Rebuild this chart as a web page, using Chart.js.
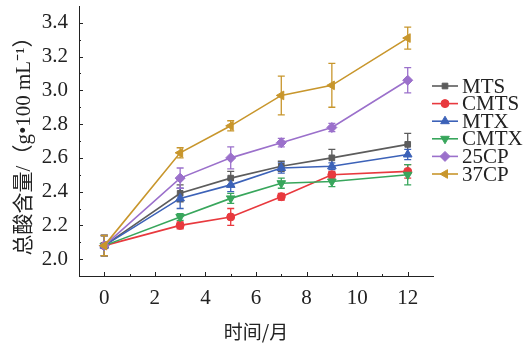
<!DOCTYPE html>
<html>
<head>
<meta charset="utf-8">
<script src="https://cdn.jsdelivr.net/npm/chart.js@4"></script>
<style>
    html, body { margin: 0; padding: 0; background: #fff; }
    #wrap { width: 527px; height: 348px; }
</style>
</head>
<body>
<div id="wrap"><canvas id="acidChart"></canvas></div>
<script>
// storage time (months)
const months = [0, 3, 5, 7, 9, 12];

const seriesNames = ['MTS', 'CMTS', 'MTX', 'CMTX', '25CP', '37CP'];

const mtsValues  = [2.08, 2.39, 2.48, 2.55, 2.60, 2.68];
const cmtsValues = [2.08, 2.20, 2.25, 2.37, 2.50, 2.52];
const mtxValues  = [2.08, 2.36, 2.44, 2.54, 2.55, 2.62];
const cmtxValues = [2.08, 2.25, 2.36, 2.45, 2.46, 2.50];
const cp25Values = [2.08, 2.48, 2.60, 2.69, 2.78, 3.06];
const cp37Values = [2.08, 2.63, 2.79, 2.97, 3.03, 3.31];

// standard deviations
const mtsErrors  = [0.06, 0.05, 0.04, 0.03, 0.05, 0.065];
const cmtsErrors = [0.06, 0.02, 0.05, 0.02, 0.02, 0.04];
const mtxErrors  = [0.06, 0.06, 0.04, 0.03, 0.02, 0.03];
const cmtxErrors = [0.06, 0.02, 0.03, 0.03, 0.03, 0.06];
const cp25Errors = [0.06, 0.06, 0.065, 0.025, 0.025, 0.075];
const cp37Errors = [0.06, 0.03, 0.03, 0.115, 0.13, 0.065];

const xTickLabels = [0, 2, 4, 6, 8, 10, 12];
const yTickLabels = [2.0, 2.2, 2.4, 2.6, 2.8, 3.0, 3.2, 3.4];

const serifFont = '"Liberation Serif", "Times New Roman", "Noto Sans CJK SC", serif';
const cjkFont = '"Noto Sans CJK SC", sans-serif';

const seriesStyles = [
    { color: '#5c5c5c', pointStyle: 'rect', radius: 4, rotation: 0 },
    { color: '#e8393e', pointStyle: 'circle', radius: 4, rotation: 0 },
    { color: '#3c62b8', pointStyle: 'triangle', radius: 5, rotation: 0 },
    { color: '#38a65c', pointStyle: 'triangle', radius: 5, rotation: 180 },
    { color: '#9b70cb', pointStyle: 'rectRot', radius: 5, rotation: 0 },
    { color: '#c8962c', pointStyle: 'triangle', radius: 5, rotation: -90 }
];

const allValues = [mtsValues, cmtsValues, mtxValues, cmtxValues, cp25Values, cp37Values];
const allErrors = [mtsErrors, cmtsErrors, mtxErrors, cmtxErrors, cp25Errors, cp37Errors];

const datasets = seriesNames.map((name, i) => {
    const st = seriesStyles[i];
    return {
        label: name,
        data: months.map((m, j) => ({ x: m, y: allValues[i][j] })),
        errors: allErrors[i],
        borderColor: st.color,
        backgroundColor: st.color,
        borderWidth: 1.6,
        pointStyle: st.pointStyle,
        pointRadius: st.radius,
        pointRotation: st.rotation,
        pointBorderWidth: 1,
        tension: 0,
        order: seriesNames.length - i
    };
});

// vertical error bars with caps
const errorBars = {
    id: 'errorBars',
    beforeDatasetsDraw(chart) {
        const ctx = chart.ctx;
        const yScale = chart.scales.y;
        chart.data.datasets.forEach((ds, i) => {
            const meta = chart.getDatasetMeta(i);
            ctx.save();
            ctx.strokeStyle = ds.borderColor;
            ctx.lineWidth = 1.3;
            meta.data.forEach((pt, j) => {
                const v = ds.data[j].y;
                const e = ds.errors[j];
                const top = yScale.getPixelForValue(v + e);
                const bot = yScale.getPixelForValue(v - e);
                ctx.beginPath();
                ctx.moveTo(pt.x, top);
                ctx.lineTo(pt.x, bot);
                ctx.moveTo(pt.x - 3.5, top);
                ctx.lineTo(pt.x + 3.5, top);
                ctx.moveTo(pt.x - 3.5, bot);
                ctx.lineTo(pt.x + 3.5, bot);
                ctx.stroke();
            });
            ctx.restore();
        });
    }
};

// inward tick marks, major and minor
const innerTicks = {
    id: 'innerTicks',
    afterDraw(chart) {
        const ctx = chart.ctx;
        const { x, y } = chart.scales;
        const area = chart.chartArea;
        ctx.save();
        ctx.strokeStyle = '#222';
        ctx.lineWidth = 1;
        ctx.beginPath();
        for (let m = 0; m <= 12; m++) {
            const px = Math.round(x.getPixelForValue(m)) + 0.5;
            const len = m % 2 === 0 ? 4 : 2;
            ctx.moveTo(px, area.bottom);
            ctx.lineTo(px, area.bottom - len);
        }
        for (let k = 0; k <= 14; k++) {
            const v = 2.0 + k * 0.1;
            const py = Math.round(y.getPixelForValue(v)) + 0.5;
            const len = k % 2 === 0 ? 4 : 2;
            ctx.moveTo(area.left, py);
            ctx.lineTo(area.left + len, py);
        }
        ctx.stroke();
        ctx.restore();
    }
};

// legend: short line with marker, then the name
const lineLegend = {
    id: 'lineLegend',
    afterDraw(chart) {
        const ctx = chart.ctx;
        const startX = 432, endX = 458, textX = 462;
        const firstY = 86, rowGap = 17.6;
        ctx.save();
        ctx.font = '21px ' + serifFont;
        ctx.textBaseline = 'middle';
        chart.data.datasets.forEach((ds, i) => {
            const rowY = firstY + i * rowGap;
            ctx.strokeStyle = ds.borderColor;
            ctx.fillStyle = ds.backgroundColor;
            ctx.lineWidth = 1.6;
            ctx.beginPath();
            ctx.moveTo(startX, rowY);
            ctx.lineTo(endX, rowY);
            ctx.stroke();
            ctx.lineWidth = 1;
            Chart.helpers.drawPoint(ctx, {
                pointStyle: ds.pointStyle,
                rotation: ds.pointRotation,
                radius: ds.pointRadius,
                borderWidth: 1
            }, (startX + endX) / 2, rowY);
            ctx.fillStyle = '#222';
            ctx.fillText(ds.label, textX, rowY + 1);
        });
        ctx.restore();
    }
};

new Chart(document.getElementById('acidChart').getContext('2d'), {
    type: 'line',
    data: { datasets: datasets },
    options: {
        responsive: true,
        maintainAspectRatio: false,
        animation: false,
        layout: { padding: { top: 1, right: 94, left: 0, bottom: 0 } },
        plugins: {
            legend: { display: false },
            tooltip: { enabled: false }
        },
        scales: {
            x: {
                type: 'linear',
                min: -1,
                max: 13,
                afterBuildTicks: scale => { scale.ticks = xTickLabels.map(v => ({ value: v })); },
                afterFit: scale => {
                    scale.height = 72;
                    scale.paddingLeft = 0;
                    scale.paddingRight = 0;
                },
                grid: { display: false, drawTicks: false },
                border: { display: true, color: '#222', width: 1 },
                ticks: {
                    color: '#222',
                    padding: 10,
                    maxRotation: 0,
                    font: { family: serifFont, size: 21 }
                },
                title: {
                    display: true,
                    text: '时间/月',
                    color: '#222',
                    font: { family: cjkFont, size: 19 },
                    padding: { top: 0, bottom: 5 }
                }
            },
            y: {
                min: 1.9,
                max: 3.5,
                afterBuildTicks: scale => { scale.ticks = yTickLabels.map(v => ({ value: v })); },
                afterFit: scale => {
                    scale.width = 79;
                    scale.paddingTop = 0;
                    scale.paddingBottom = 0;
                },
                grid: { display: false, drawTicks: false },
                border: { display: true, color: '#222', width: 1 },
                ticks: {
                    color: '#222',
                    padding: 11,
                    font: { family: serifFont, size: 21 },
                    callback: v => v.toFixed(1)
                },
                title: {
                    display: true,
                    text: '总酸含量/（g•100 mL⁻¹）',
                    color: '#222',
                    font: { family: serifFont, size: 21 },
                    padding: { top: 12, bottom: 0 }
                }
            }
        }
    },
    plugins: [errorBars, innerTicks, lineLegend]
});
</script>
</body>
</html>
